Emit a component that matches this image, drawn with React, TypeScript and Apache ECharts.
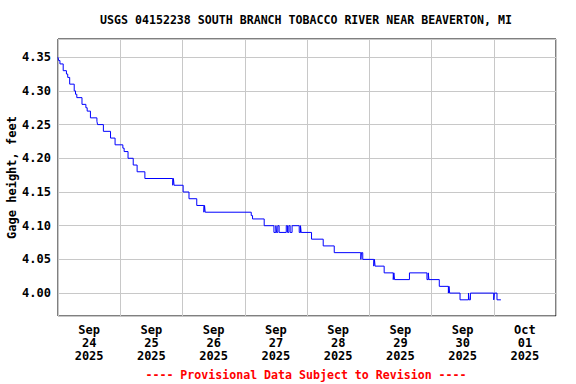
import React, { useEffect, useRef } from "react";
import * as echarts from "echarts";

const TITLE = "USGS 04152238 SOUTH BRANCH TOBACCO RIVER NEAR BEAVERTON, MI";
const Y_NAME = "Gage height, feet";
const FOOTER = "---- Provisional Data Subject to Revision ----";
const DAY_LABELS = [
  "Sep\n24\n2025",
  "Sep\n25\n2025",
  "Sep\n26\n2025",
  "Sep\n27\n2025",
  "Sep\n28\n2025",
  "Sep\n29\n2025",
  "Sep\n30\n2025",
  "Oct\n01\n2025",
];
const X_MIN = "2025-09-24 00:00";
const X_MAX = "2025-10-02 00:00";
const Y_MIN = 3.966;
const Y_MAX = 4.377;

const TIMES = [
  "2025-09-24 00:00", "2025-09-24 00:15", "2025-09-24 00:45", "2025-09-24 02:00", "2025-09-24 03:15",
  "2025-09-24 03:45", "2025-09-24 04:30", "2025-09-24 06:15", "2025-09-24 06:45", "2025-09-24 07:15",
  "2025-09-24 09:15", "2025-09-24 10:45", "2025-09-24 11:15", "2025-09-24 12:30", "2025-09-24 15:00",
  "2025-09-24 15:15", "2025-09-24 17:30", "2025-09-24 20:15", "2025-09-24 22:00",
  "2025-09-25 01:00", "2025-09-25 01:30", "2025-09-25 03:00", "2025-09-25 05:00", "2025-09-25 06:30",
  "2025-09-25 09:30", "2025-09-25 20:15", "2025-09-25 20:30", "2025-09-25 20:45",
  "2025-09-26 00:15", "2025-09-26 02:30", "2025-09-26 05:30", "2025-09-26 08:15", "2025-09-26 08:30",
  "2025-09-26 08:45",
  "2025-09-27 02:30", "2025-09-27 03:00", "2025-09-27 07:30", "2025-09-27 11:15", "2025-09-27 12:00",
  "2025-09-27 12:15", "2025-09-27 12:45", "2025-09-27 13:15", "2025-09-27 16:00", "2025-09-27 16:30",
  "2025-09-27 17:00", "2025-09-27 17:30", "2025-09-27 18:15", "2025-09-27 21:00", "2025-09-27 21:30",
  "2025-09-27 21:45",
  "2025-09-28 01:45", "2025-09-28 06:15", "2025-09-28 10:30", "2025-09-28 20:45", "2025-09-28 21:00",
  "2025-09-28 21:30",
  "2025-09-29 01:45", "2025-09-29 02:00", "2025-09-29 02:15", "2025-09-29 05:45", "2025-09-29 09:15",
  "2025-09-29 09:30", "2025-09-29 09:45", "2025-09-29 15:30", "2025-09-29 22:15", "2025-09-29 22:45",
  "2025-09-29 23:00",
  "2025-09-30 03:00", "2025-09-30 06:30", "2025-09-30 06:45", "2025-09-30 07:00", "2025-09-30 11:00",
  "2025-09-30 14:15", "2025-09-30 14:30", "2025-09-30 15:00",
  "2025-10-01 00:00", "2025-10-01 00:15", "2025-10-01 01:15", "2025-10-01 02:45",
];

const VALUES = [
  4.35, 4.345, 4.34, 4.33, 4.325, 4.32, 4.31, 4.3, 4.295, 4.29, 4.28, 4.275, 4.27, 4.26, 4.255, 4.25, 4.24, 4.23, 4.22,
  4.215, 4.21, 4.2, 4.19, 4.18, 4.17, 4.16, 4.17, 4.16,
  4.15, 4.14, 4.13, 4.12, 4.13, 4.12,
  4.115, 4.11, 4.1, 4.09, 4.1, 4.09, 4.1, 4.09, 4.1, 4.09, 4.1, 4.09, 4.1, 4.09, 4.1, 4.09,
  4.08, 4.07, 4.06, 4.05, 4.06, 4.05,
  4.04, 4.05, 4.04, 4.03, 4.02, 4.03, 4.02, 4.03, 4.02, 4.03, 4.02,
  4.01, 4.0, 4.01, 4.0, 3.99, 4.0, 3.99, 4.0,
  3.99, 4.0, 3.99, 3.99,
];

const FONT = "'DejaVu Sans Mono', 'Liberation Mono', monospace";

export default function App() {
  const ref = useRef<HTMLDivElement>(null);

  useEffect(() => {
    if (!ref.current) return;
    const chart = echarts.init(ref.current, null, { renderer: "svg" });
    const data = TIMES.map((t, i) => [t, VALUES[i]]);
    chart.setOption({
      animation: false,
      backgroundColor: "#ffffff",
      grid: {
        left: 58,
        top: 39,
        right: 20,
        bottom: 68,
        containLabel: false,
        outerBoundsMode: "none",
        show: true,
        borderColor: "#000000",
        borderWidth: 1,
        backgroundColor: "transparent",
      },
      xAxis: [
        {
          type: "time",
          position: "bottom",
          min: X_MIN,
          max: X_MAX,
          interval: 86400000,
          axisLine: { show: false },
          axisTick: { show: false },
          axisLabel: { show: false },
          splitLine: { show: true, lineStyle: { color: "#c8c8c8", width: 1 } },
        },
        {
          type: "category",
          position: "bottom",
          data: DAY_LABELS,
          boundaryGap: true,
          axisLine: { show: false },
          axisTick: { show: false },
          splitLine: { show: false },
          axisLabel: {
            interval: 0,
            margin: 7,
            fontFamily: FONT,
            fontWeight: "bold",
            fontSize: 12,
            lineHeight: 13,
            color: "#000000",
          },
        },
      ],
      yAxis: {
        type: "value",
        min: Y_MIN,
        max: Y_MAX,
        splitNumber: 8,
        name: Y_NAME,
        nameLocation: "middle",
        nameGap: 40,
        nameMoveOverlap: false,
        nameRotate: 90,
        nameTextStyle: {
          fontFamily: FONT,
          fontWeight: "bold",
          fontSize: 12,
          color: "#000000",
        },
        axisLine: { show: false },
        axisTick: { show: false },
        axisLabel: {
          showMinLabel: false,
          showMaxLabel: false,
          margin: 7,
          fontFamily: FONT,
          fontWeight: "bold",
          fontSize: 12,
          color: "#000000",
          formatter: (v: number) => v.toFixed(2),
        },
        splitLine: { show: true, lineStyle: { color: "#c8c8c8", width: 1 } },
      },
      graphic: [
        {
          type: "text",
          x: 306,
          y: 20,
          style: {
            text: TITLE,
            fontFamily: FONT,
            fontWeight: "bold",
            fontSize: 11.6,
            fill: "#000000",
            textAlign: "center",
            textVerticalAlign: "middle",
          },
        },
        {
          type: "text",
          x: 306,
          y: 375,
          style: {
            text: FOOTER,
            fontFamily: FONT,
            fontWeight: "bold",
            fontSize: 11.6,
            fill: "#ff0000",
            textAlign: "center",
            textVerticalAlign: "middle",
          },
        },
      ],
      series: [
        {
          type: "line",
          xAxisIndex: 0,
          step: "end",
          symbol: "none",
          data,
          lineStyle: { color: "#0000ff", width: 1 },
        },
      ],
    });
    return () => chart.dispose();
  }, []);

  return <div ref={ref} style={{ width: 576, height: 384, position: "absolute", left: 0, top: 0 }} />;
}
